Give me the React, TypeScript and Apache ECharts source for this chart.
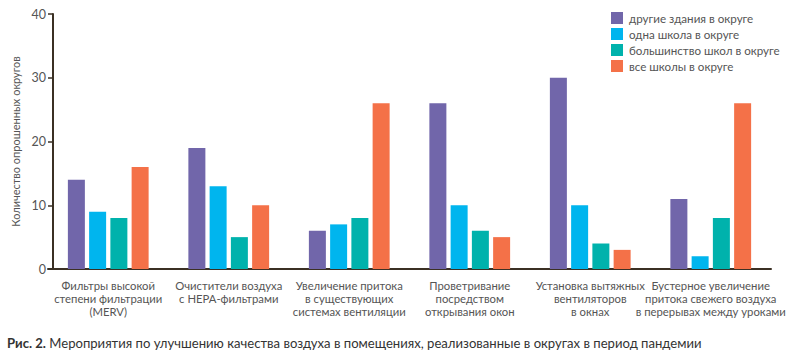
import React, { useEffect, useRef } from "react";
import * as echarts from "echarts";

const categories = [
  "Фильтры высокой\nстепени фильтрации\n(MERV)",
  "Очистители воздуха\nс НЕРА-фильтрами",
  "Увеличение притока\nв существующих\nсистемах вентиляции",
  "Проветривание\nпосредством\nоткрывания окон",
  "Установка вытяжных\nвентиляторов\nв окнах",
  "Бустерное увеличение\nпритока свежего воздуха\nв перерывах между уроками",
];
const seriesNames = [
  "другие здания в округе",
  "одна школа в округе",
  "большинство школ в округе",
  "все школы в округе",
];
const otherBuildings = [14, 19, 6, 26, 30, 11];
const oneSchool = [9, 13, 7, 10, 10, 2];
const mostSchools = [8, 5, 8, 6, 4, 8];
const allSchools = [16, 10, 26, 5, 3, 26];
const yTicks = [0, 10, 20, 30, 40];
const colors = ["#7166AA", "#00B5EE", "#00B2AC", "#F47148"];
const yAxisTitle = "Количество опрошенных округов";
const captionBold = "Рис. 2.";
const captionText = " Мероприятия по улучшению качества воздуха в помещениях, реализованные в округах в период пандемии";

const FONT = "Lato, 'Open Sans', sans-serif";

export default function App() {
  const ref = useRef<HTMLDivElement>(null);
  useEffect(() => {
    if (!ref.current) return;
    const chart = echarts.init(ref.current, null, { renderer: "svg" });
    const data = [otherBuildings, oneSchool, mostSchools, allSchools];
    chart.setOption({
      animation: false,
      textStyle: { fontFamily: FONT },
      grid: { left: 48, right: 29, top: 14, bottom: 91, containLabel: false },
      legend: {
        orient: "vertical",
        left: 606,
        top: 7,
        itemWidth: 12,
        itemHeight: 12,
        itemGap: 4,
        icon: "rect",
        textStyle: { fontSize: 11.6, color: "#555", fontFamily: FONT, padding: [0, 0, 0, 1] },
        data: seriesNames,
      },
      xAxis: {
        type: "category",
        data: categories,
        axisLine: { lineStyle: { color: "#3b3024", width: 2 } },
        axisTick: { show: false },
        axisLabel: {
          interval: 0,
          color: "#555",
          fontSize: 11.3,
          lineHeight: 13,
          margin: 10,
          fontFamily: FONT,
        },
      },
      yAxis: {
        type: "value",
        min: yTicks[0],
        max: yTicks[yTicks.length - 1],
        interval: 10,
        offset: -5,
        name: yAxisTitle,
        nameLocation: "middle",
        nameRotate: 90,
        nameGap: 31,
        nameTextStyle: { fontSize: 11, color: "#555", fontFamily: FONT },
        axisLine: { show: true, lineStyle: { color: "#3b3024", width: 2 } },
        axisTick: { show: true, length: 5, lineStyle: { color: "#3b3024", width: 1.5 } },
        axisLabel: { color: "#555", fontSize: 12.5, margin: 7, fontFamily: FONT },
        splitLine: { show: false },
      },
      series: seriesNames.map((name, i) => ({
        name,
        type: "bar",
        data: data[i],
        barWidth: 17,
        barGap: "25%",
        itemStyle: { color: colors[i] },
      })),
      graphic: [
        {
          type: "text",
          left: 7,
          top: 336,
          style: {
            text: `{b|${captionBold}}{n|${captionText}}`,
            rich: {
              b: { fontWeight: "bold", fontSize: 13.1, fill: "#333", fontFamily: FONT },
              n: { fontSize: 13.1, fill: "#333", fontFamily: FONT },
            },
          },
        },
      ],
    });
    return () => chart.dispose();
  }, []);
  return (
    <div
      ref={ref}
      style={{ position: "fixed", left: 0, top: 0, width: 800, height: 360, background: "#fff" }}
    />
  );
}
